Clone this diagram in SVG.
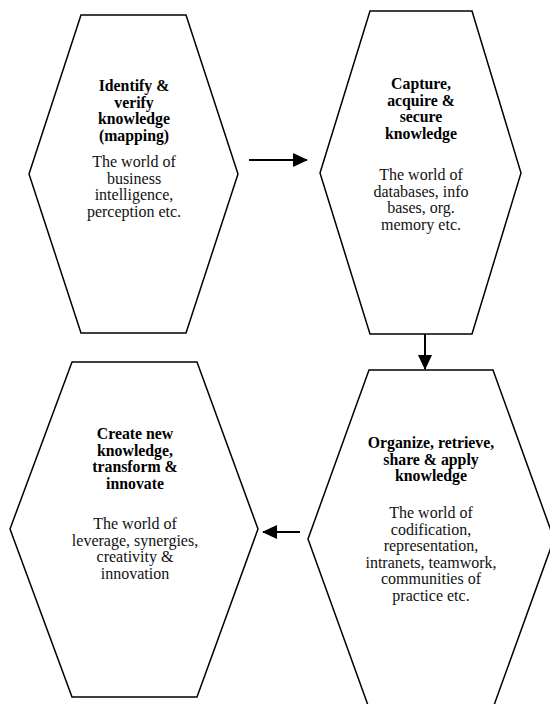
<svg xmlns="http://www.w3.org/2000/svg" width="550" height="704" viewBox="0 0 550 704">
<defs>
<style>
.hex{fill:#fff;stroke:#000;stroke-width:1.5;stroke-linejoin:miter}
.b{font-family:"Liberation Serif","Times New Roman",serif;font-size:15.8px;font-weight:bold;text-anchor:middle;fill:#000}
.r{font-family:"Liberation Serif","Times New Roman",serif;font-size:16px;text-anchor:middle;fill:#111}
.c{stroke:#000;stroke-width:2;fill:none}
</style>
<marker id="ah" viewBox="0 0 15 14" refX="14" refY="7" markerWidth="15" markerHeight="14" markerUnits="userSpaceOnUse" orient="auto">
<path d="M0,0 L15,7 L0,14 z" fill="#000"/>
</marker>
</defs>
<rect width="550" height="704" fill="#fff"/>
<g id="node-identify">
<polygon class="hex" points="81,15 186,15 238,174 186,333 81,333 29,174"/>
<text class="b" x="134" y="91">Identify &amp;</text>
<text class="b" x="134" y="107.5">verify</text>
<text class="b" x="134" y="124">knowledge</text>
<text class="b" x="134" y="140.5">(mapping)</text>
<text class="r" x="134" y="167">The world of</text>
<text class="r" x="134" y="183.5">business</text>
<text class="r" x="134" y="200">intelligence,</text>
<text class="r" x="134" y="216.5">perception etc.</text>
</g>
<g id="node-capture">
<polygon class="hex" points="370,11 472,11 521,173 472,334 370,334 320,173"/>
<text class="b" x="421" y="89">Capture,</text>
<text class="b" x="421" y="105.5">acquire &amp;</text>
<text class="b" x="421" y="122">secure</text>
<text class="b" x="421" y="138.5">knowledge</text>
<text class="r" x="421" y="180">The world of</text>
<text class="r" x="421" y="196.5">databases, info</text>
<text class="r" x="421" y="213">bases, org.</text>
<text class="r" x="421" y="229.5">memory etc.</text>
</g>
<g id="node-create">
<polygon class="hex" points="72,362 197,362 258,529 197,697 72,697 10,529"/>
<text class="b" x="135" y="439">Create new</text>
<text class="b" x="135" y="455.5">knowledge,</text>
<text class="b" x="135" y="472">transform &amp;</text>
<text class="b" x="135" y="488.5">innovate</text>
<text class="r" x="135" y="529">The world of</text>
<text class="r" x="135" y="545.5">leverage, synergies,</text>
<text class="r" x="135" y="562">creativity &amp;</text>
<text class="r" x="135" y="578.5">innovation</text>
</g>
<g id="node-organize">
<polygon class="hex" points="369,370 493,370 554,539 493,708 369,708 308,539"/>
<text class="b" x="431" y="448">Organize, retrieve,</text>
<text class="b" x="431" y="464.5">share &amp; apply</text>
<text class="b" x="431" y="481">knowledge</text>
<text class="r" x="431" y="518">The world of</text>
<text class="r" x="431" y="534.5">codification,</text>
<text class="r" x="431" y="551">representation,</text>
<text class="r" x="431" y="567.5">intranets, teamwork,</text>
<text class="r" x="431" y="584">communities of</text>
<text class="r" x="431" y="600.5">practice etc.</text>
</g>
<g id="connectors">
<line class="c" x1="249" y1="160" x2="307" y2="160" marker-end="url(#ah)"/>
<line class="c" x1="425" y1="334" x2="425" y2="369" marker-end="url(#ah)"/>
<line class="c" x1="300" y1="532" x2="263" y2="532" marker-end="url(#ah)"/>
</g>
</svg>
